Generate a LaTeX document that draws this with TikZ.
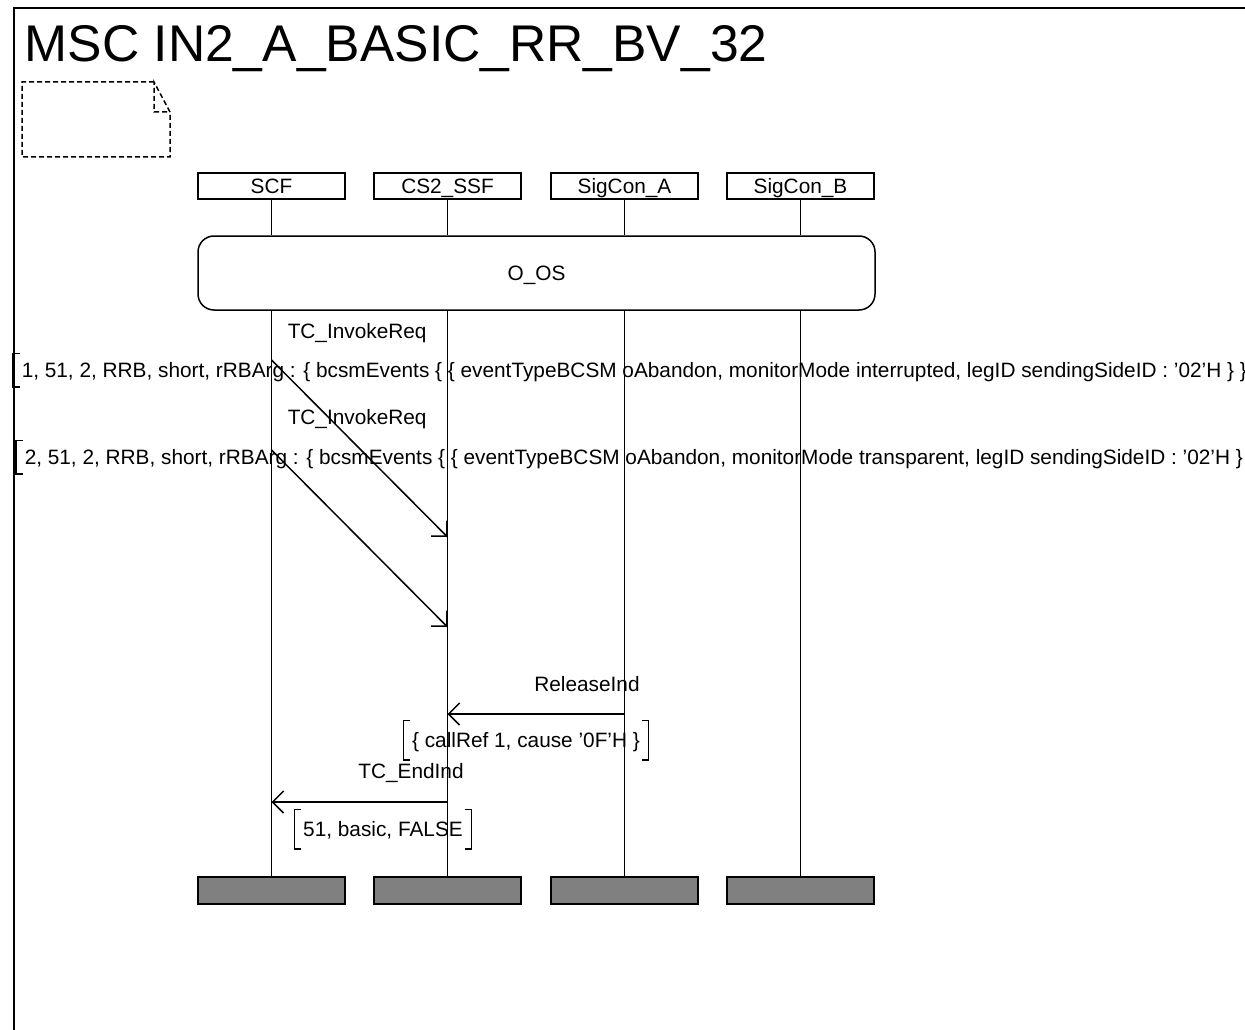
\documentclass[tikz,border=0pt]{standalone}
\usepackage{fontspec}
\setmainfont{Liberation Sans}
\usetikzlibrary{arrows.meta}
\newcommand\mscbrk[1]{%
  \draw ([xshift=7pt]#1.north west) -- (#1.north west) -- (#1.south west) -- ([xshift=7pt]#1.south west);
  \draw ([xshift=-7pt]#1.north east) -- (#1.north east) -- (#1.south east) -- ([xshift=-7pt]#1.south east);}
\begin{document}
\begin{tikzpicture}[x=1pt,y=-1pt,line width=1.5pt,
  every node/.style={font=\fontsize{20.8}{24}\selectfont, inner sep=0pt, text height=15pt, text depth=0pt},
  inst/.style={draw, minimum width=147pt, minimum height=26pt},
  endbox/.style={draw, line width=2pt, fill=black!50, minimum width=147pt, minimum height=27pt},
  msg/.style={-{Straight Barb[length=11pt,width=22pt]}},
  param/.style={minimum height=38pt, inner xsep=8pt},
  notebox/.style={dash pattern=on 5pt off 3pt}]
\useasboundingbox (0,0) rectangle (1245,1030);
\clip (0,0) rectangle (1245,1030);
% frame
\draw (14,8) rectangle (1300,1100);
\node[anchor=base west, font=\fontsize{51.6}{60}\selectfont, text height=, text depth=] (title) at (24,62) {MSC IN2\_A\_BASIC\_RR\_BV\_32};
% comment symbol
\draw[notebox] (154,82) -- (22,82) -- (22,157) -- (170,157) -- (170,112) -- (154,82) -- (154,112) -- (170,112);
% instances
\node[inst] (h1) at (271.5,186) {SCF};
\node[inst] (h2) at (447.5,186) {CS2\_SSF};
\node[inst] (h3) at (624.5,186) {SigCon\_A};
\node[inst] (h4) at (800.5,186) {SigCon\_B};
\node[draw, rounded corners=16pt, minimum width=677pt, minimum height=74pt] (os) at (536.5,273) {O\_OS};
\node[endbox] (e1) at (271.5,890.5) {};
\node[endbox] (e2) at (447.5,890.5) {};
\node[endbox] (e3) at (624.5,890.5) {};
\node[endbox] (e4) at (800.5,890.5) {};
\foreach \i in {1,2,3,4}{
  \draw (h\i.south) -- (h\i.south |- os.north);
  \draw (h\i.south |- os.south) -- (e\i.north);
}
% message 1
\coordinate (a1) at (h1.south |- 0,360);
\coordinate (b1) at (h2.south |- 0,537);
\draw[msg] (a1) -- (b1);
\node[anchor=west] (l1) at (287,331) {TC\_InvokeReq};
\node[param, anchor=west, minimum height=32pt] (p1) at (13,370) {1, 51, 2, RRB, short, rRBArg : \{ bcsmEvents \{ \{ eventTypeBCSM oAbandon, monitorMode interrupted, legID sendingSideID : ’02’H \} \} \}};
\mscbrk{p1}
% message 2
\coordinate (a2) at (h1.south |- 0,450);
\coordinate (b2) at (h2.south |- 0,627);
\draw[msg] (a2) -- (b2);
\node[anchor=west] (l2) at (287,417) {TC\_InvokeReq};
\node[param, anchor=west, minimum height=32pt] (p2) at (16,457) {2, 51, 2, RRB, short, rRBArg : \{ bcsmEvents \{ \{ eventTypeBCSM oAbandon, monitorMode transparent, legID sendingSideID : ’02’H \} \} \}};
\mscbrk{p2}
% message 3
\coordinate (a3) at (h3.south |- 0,714);
\coordinate (b3) at (h2.south |- 0,714);
\draw[msg] (a3) -- (b3);
\node (l3) at (587,684) {ReleaseInd};
\node[param] (p3) at (526,740) {\{ callRef 1, cause ’0F’H \}};
\mscbrk{p3}
% message 4
\coordinate (a4) at (h2.south |- 0,802);
\coordinate (b4) at (h1.south |- 0,802);
\draw[msg] (a4) -- (b4);
\node (l4) at (411,771) {TC\_EndInd};
\node[param] (p4) at (383,829) {51, basic, FALSE};
\mscbrk{p4}
\end{tikzpicture}
\end{document}
